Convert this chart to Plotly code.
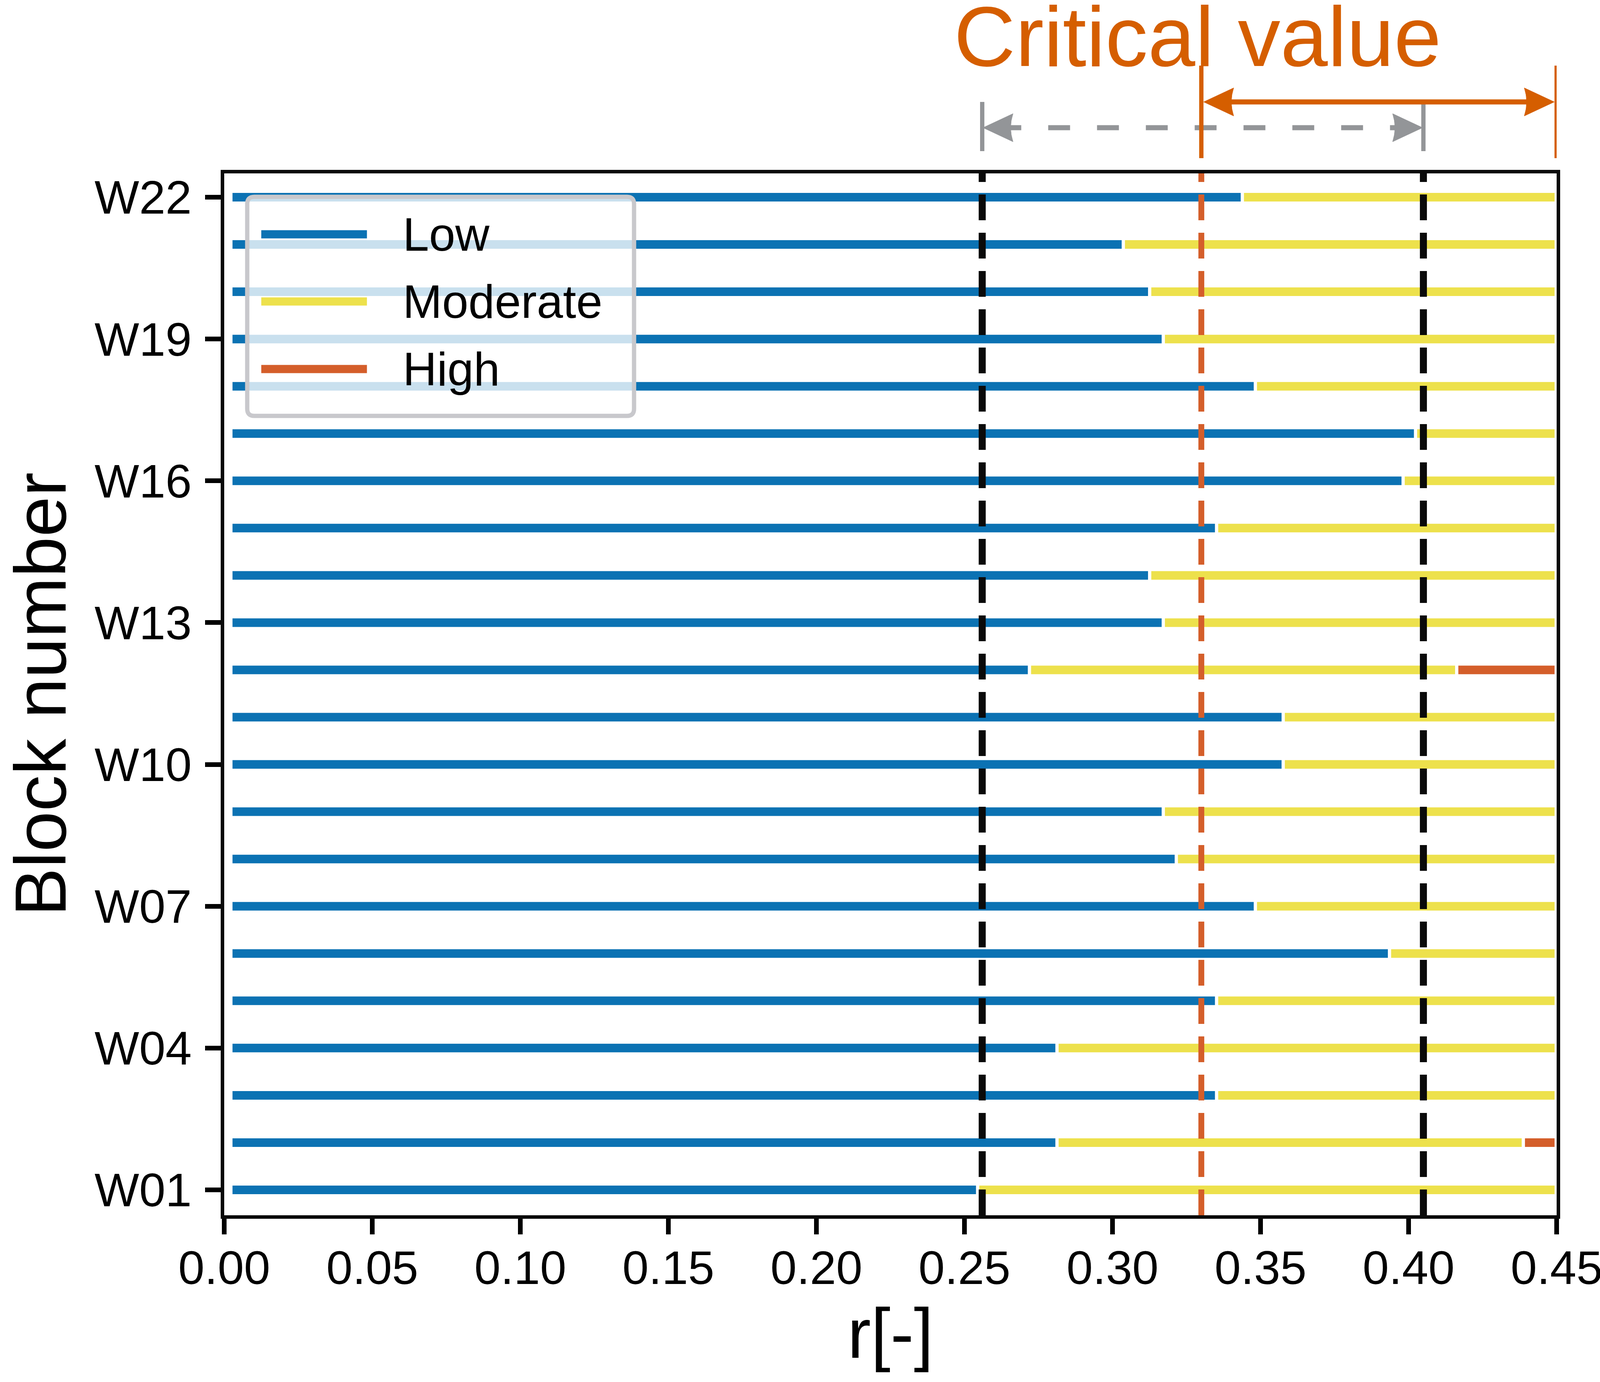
import plotly.graph_objects as go

# ---------------- data ----------------
blocks = [f"W{i:02d}" for i in range(1, 23)]
# r value where the "Low" class ends (per block, W01..W22)
low_end = [0.2539, 0.2807, 0.3346, 0.2807, 0.3346, 0.3930, 0.3477, 0.3210,
           0.3166, 0.3571, 0.3571, 0.2714, 0.3166, 0.3120, 0.3346, 0.3976,
           0.4018, 0.3477, 0.3166, 0.3120, 0.3031, 0.3433]
# r value where the "High" class starts (None = not reached inside range)
high_start = [None, 0.4393, None, None, None, None, None, None, None, None,
              None, 0.4168, None, None, None, None, None, None, None, None,
              None, None]
r_min, r_max = 0.0028, 0.4493
seg_gap = 0.0011
class_names = ["Low", "Moderate", "High"]
class_colors = ["#0B72B3", "#EDE14C", "#D45E2A"]
bound_low, critical, bound_high = 0.256, 0.330, 0.405
crit_range_end = 0.45
tick_vals = list(range(0, 22, 3))
tick_text = [blocks[i] for i in tick_vals]
x_ticks = [0.00, 0.05, 0.10, 0.15, 0.20, 0.25, 0.30, 0.35, 0.40, 0.45]

# ---------------- geometry (pixels) ----------------
W, H = 4117, 3539
PL, PR, PT, PB = 568, 3985, 444, 3112
XMAX = 0.45
DX = XMAX / (PR - PL)          # data units per pixel


def py(y):
    return (PB - y) / (PB - PT)


def pxp(x):
    return (x - PL) / (PR - PL)


FONT = "Liberation Sans, Arial, Helvetica, sans-serif"
ORANGE = "#D55E00"
GRAY = "#939598"

fig = go.Figure()

# bars as thick line segments
seg = {0: ([], []), 1: ([], []), 2: ([], [])}
for i in range(len(blocks)):
    lo = low_end[i]
    hs = high_start[i]
    seg[0][0].extend([r_min, lo, None]); seg[0][1].extend([i, i, None])
    mod_end = (hs - seg_gap) if hs is not None else r_max
    seg[1][0].extend([lo + seg_gap, mod_end, None]); seg[1][1].extend([i, i, None])
    if hs is not None:
        seg[2][0].extend([hs, r_max, None]); seg[2][1].extend([i, i, None])

for k in range(3):
    fig.add_trace(go.Scatter(x=seg[k][0], y=seg[k][1], mode="lines",
                             line=dict(color=class_colors[k], width=22),
                             name=class_names[k], showlegend=False,
                             hoverinfo="skip"))

shapes = []
# vertical dashed lines
for xv, col, w in [(bound_low, "#0A0A0A", 18), (critical, class_colors[2], 15),
                   (bound_high, "#0A0A0A", 18)]:
    shapes.append(dict(type="line", xref="x", yref="paper", x0=xv, x1=xv,
                       y0=0, y1=1, layer="above",
                       line=dict(color=col, width=w, dash="66px,32px")))


def head(tip_x, y_px, direction, color, L=77, half=36, notch=12):
    bx = tip_x + direction * L * DX
    nx = tip_x + direction * (L - notch) * DX
    p = (f"M{tip_x},{py(y_px)} L{bx},{py(y_px - half)} "
         f"Q{nx},{py(y_px)} {bx},{py(y_px + half)} Z")
    return dict(type="path", xref="x", yref="paper", path=p, fillcolor=color,
                line=dict(color=color, width=1), layer="above")


# gray dashed double arrow
gy = 327
shapes.append(dict(type="line", xref="x", yref="paper",
                   x0=bound_low + 44 * DX, x1=bound_high - 60 * DX,
                   y0=py(gy), y1=py(gy),
                   line=dict(color=GRAY, width=13, dash="56px,69px")))
for xv in (bound_low, bound_high):
    shapes.append(dict(type="line", xref="x", yref="paper", x0=xv, x1=xv,
                       y0=py(261), y1=py(387), line=dict(color=GRAY, width=11)))
shapes.append(head(bound_low + 2 * DX, gy, 1, GRAY))
shapes.append(head(bound_high - 2 * DX, gy, -1, GRAY))

# orange solid double arrow
oy = 261
shapes.append(dict(type="line", xref="x", yref="paper",
                   x0=critical + 40 * DX, x1=crit_range_end - 40 * DX,
                   y0=py(oy), y1=py(oy), line=dict(color=ORANGE, width=13)))
for xv in (critical, crit_range_end):
    shapes.append(dict(type="line", xref="x", yref="paper", x0=xv, x1=xv,
                       y0=py(168), y1=py(405), line=dict(color=ORANGE, width=11)))
shapes.append(head(critical + 6 * DX, oy, 1, ORANGE))
shapes.append(head(crit_range_end - 6 * DX, oy, -1, ORANGE))

# legend box (rounded)
lx0, lx1, ly0, ly1, rad = 627, 1619, 504, 1065, 18
X0, X1 = pxp(lx0), pxp(lx1)
Y0, Y1 = py(ly0), py(ly1)
rx, ry = rad / (PR - PL), rad / (PB - PT)
box = (f"M{X0 + rx},{Y0} L{X1 - rx},{Y0} Q{X1},{Y0} {X1},{Y0 - ry} "
       f"L{X1},{Y1 + ry} Q{X1},{Y1} {X1 - rx},{Y1} L{X0 + rx},{Y1} "
       f"Q{X0},{Y1} {X0},{Y1 + ry} L{X0},{Y0 - ry} Q{X0},{Y0} {X0 + rx},{Y0} Z")
shapes.append(dict(type="path", xref="paper", yref="paper", path=box,
                   fillcolor="rgba(255,255,255,0.78)", layer="above",
                   line=dict(color="#C8C8CC", width=11)))
annotations = []
for k, yl in enumerate([600, 772, 945]):
    shapes.append(dict(type="line", xref="paper", yref="paper",
                       x0=pxp(663), x1=pxp(934), y0=py(yl), y1=py(yl),
                       layer="above",
                       line=dict(color=class_colors[k], width=21)))
    annotations.append(dict(xref="paper", yref="paper", x=pxp(1024), y=py(yl),
                            xanchor="left", yanchor="middle", showarrow=False,
                            text=class_names[k],
                            font=dict(family=FONT, size=121, color="#000000")))

annotations.append(dict(xref="x", yref="paper", x=0.3287, y=py(94),
                        xanchor="center", yanchor="middle", showarrow=False,
                        text="Critical value",
                        font=dict(family=FONT, size=218, color=ORANGE)))

fig.update_layout(
    width=W, height=H,
    margin=dict(l=PL, r=W - PR, t=PT, b=H - PB, pad=0),
    paper_bgcolor="white", plot_bgcolor="white",
    showlegend=False,
    shapes=shapes, annotations=annotations,
    font=dict(family=FONT, color="#000000"),
)
fig.update_xaxes(range=[0, XMAX], tickvals=x_ticks, tickformat=".2f",
                 ticks="outside", ticklen=40, tickwidth=12, tickcolor="#000",
                 showline=True, linewidth=9, linecolor="#0A0A0A", mirror=True,
                 showgrid=False, zeroline=False, ticklabelstandoff=-18,
                 tickfont=dict(family=FONT, size=121, color="#000"),
                 title=dict(text="r[-]", standoff=32,
                            font=dict(family=FONT, size=180, color="#000")))
fig.update_yaxes(range=[-0.537, 21.504], tickvals=tick_vals, ticktext=tick_text,
                 ticks="outside", ticklen=40, tickwidth=12, tickcolor="#000",
                 showline=True, linewidth=9, linecolor="#0A0A0A", mirror=True,
                 showgrid=False, zeroline=False, ticklabelstandoff=10,
                 tickfont=dict(family=FONT, size=121, color="#000"),
                 title=dict(text="Block number", standoff=100,
                            font=dict(family=FONT, size=186, color="#000")))

fig.write_html("out.html",
               config={"displayModeBar": False},
               post_script="document.body.style.margin='0';"
                           "document.body.style.overflow='hidden';")
